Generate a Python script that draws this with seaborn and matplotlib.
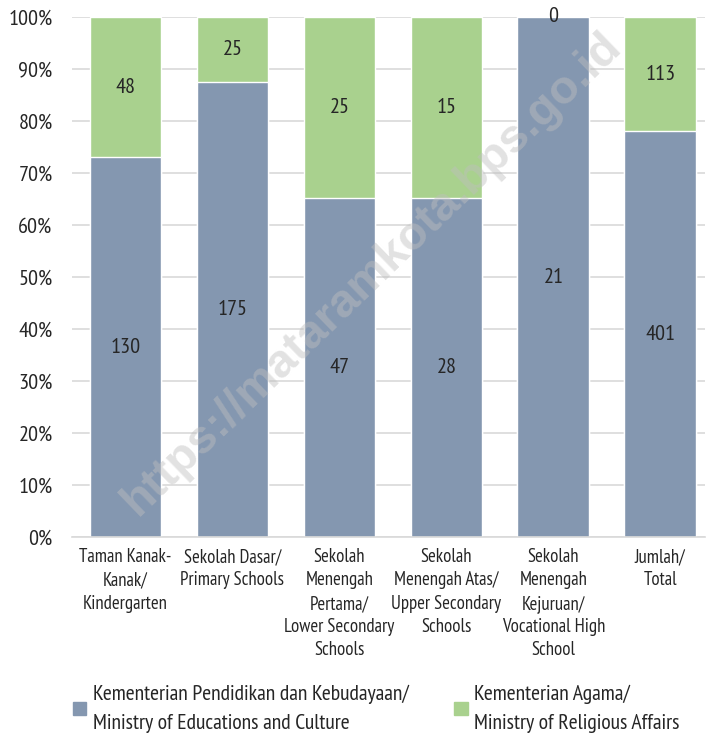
import matplotlib
matplotlib.use('Agg')
import matplotlib.pyplot as plt
import seaborn as sns
import pandas as pd
import numpy as np
from matplotlib.patches import Patch

categories = ['Taman Kanak-\nKanak/\nKindergarten', 'Sekolah Dasar/\nPrimary Schools',
              'Sekolah\nMenengah\nPertama/\nLower Secondary\nSchools',
              'Sekolah\nMenengah Atas/\nUpper Secondary\nSchools',
              'Sekolah\nMenengah\nKejuruan/\nVocational High\nSchool',
              'Jumlah/\nTotal']
kemendikbud = [130, 175, 47, 28, 21, 401]
kemenag = [48, 25, 25, 15, 0, 113]
series_names = ['Kementerian Pendidikan dan Kebudayaan/\nMinistry of Educations and Culture',
                'Kementerian Agama/\nMinistry of Religious Affairs']

blue = '#8497B0'
green = '#A9D18E'
text_color = '#262626'

sns.set_theme(style='white')
plt.rcParams['font.family'] = ['PT Sans Narrow', 'DejaVu Sans']

df = pd.DataFrame({'cat': categories, 'a': kemendikbud, 'b': kemenag})
df['total'] = df['a'] + df['b']
df['pct_a'] = df['a'] / df['total'] * 100
df['pct_all'] = 100.0

fig = plt.figure(figsize=(7.09, 7.39), dpi=100)
ax = fig.add_axes([0.1016, 0.2733, 0.893, 0.7037])

# green = full bar, blue drawn on top from zero
sns.barplot(data=df, x='cat', y='pct_all', color=green, width=0.67, ax=ax, saturation=1)
sns.barplot(data=df, x='cat', y='pct_a', color=blue, width=0.67, ax=ax, saturation=1)

for i, row in df.iterrows():
    ax.text(i, row['pct_a'] / 2, f"{row['a']}", ha='center', va='center', fontsize=16, color=text_color)
    ax.text(i, row['pct_a'] + (100 - row['pct_a']) / 2, f"{row['b']}", ha='center', va='center',
            fontsize=16, color=text_color)

ax.set_ylim(0, 100)
ax.set_xlim(-0.5, 5.42)
ax.set_yticks(np.arange(0, 101, 10))
ax.set_yticklabels([f'{v}%' for v in range(0, 101, 10)], fontsize=16, color=text_color)
ax.set_xticklabels(categories, fontsize=13.5, color=text_color, linespacing=1.38)
ax.tick_params(axis='x', length=0, pad=8)
ax.tick_params(axis='y', length=0, pad=14)
ax.set_xlabel('')
ax.set_ylabel('')
ax.yaxis.grid(True, color='#D9D9D9', linewidth=1.2)
ax.set_axisbelow(True)
for s in ['top', 'right', 'left']:
    ax.spines[s].set_visible(False)
ax.spines['bottom'].set_color('#D9D9D9')
ax.spines['bottom'].set_linewidth(1.2)

handles = [Patch(color=blue), Patch(color=green)]
leg = fig.legend(handles, series_names, loc='lower left', bbox_to_anchor=(0.088, -0.006), ncol=2,
                 frameon=False, fontsize=15.7, handlelength=0.6, handleheight=0.6,
                 handletextpad=0.3, columnspacing=2.1, labelspacing=0.2, borderpad=0)
for t in leg.get_texts():
    t.set_linespacing(1.62)
    t.set_color(text_color)

fig.text(0.525, 0.63, 'https://mataramkota.bps.go.id', rotation=44, fontsize=34,
         fontweight='bold', color='#BFBFBF', alpha=0.45, ha='center', va='center',
         family=['Liberation Sans', 'DejaVu Sans'])

fig.savefig('out.png', dpi=100)
